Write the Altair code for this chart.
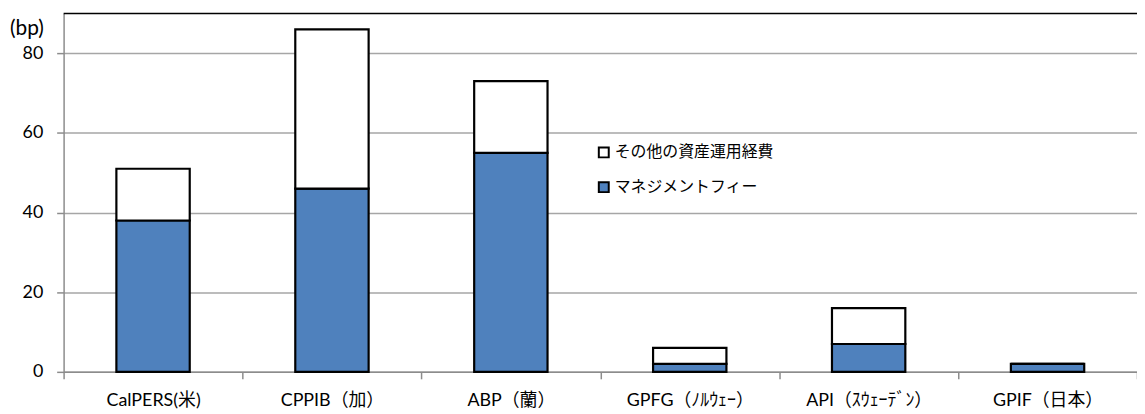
import altair as alt
import pandas as pd

categories = ["CalPERS(米)", "CPPIB（加）", "ABP（蘭）", "GPFG（ﾉﾙｳｪｰ）", "API（ｽｳｪｰﾃﾞﾝ）", "GPIF（日本）"]
mgmt_fee = [38, 46, 55, 2, 7, 2]
other_cost = [13, 40, 18, 4, 9, 0]
series_names = ["その他の資産運用経費", "マネジメントフィー"]
series_colors = ["#ffffff", "#4f81bd"]
y_ticks = [0, 20, 40, 60, 80]

rows = []
for c, m, o in zip(categories, mgmt_fee, other_cost):
    rows.append({"cat": c, "series": series_names[1], "value": m, "ord": 0})
    rows.append({"cat": c, "series": series_names[0], "value": o, "ord": 1})
df = pd.DataFrame(rows)

FONT = "Lato, 'Noto Sans CJK JP', sans-serif"

bars = alt.Chart(df).mark_bar(stroke="black", strokeWidth=2.2, width={"band": 0.41}).encode(
    x=alt.X("cat:N", sort=categories, title=None,
            scale=alt.Scale(paddingInner=0, paddingOuter=0),
            axis=alt.Axis(labelAngle=0, labelFontSize=18, labelColor="black", labelFont=FONT,
                          tickBand="extent", tickSize=7, tickColor="#8c8c8c", tickWidth=1.5,
                          domainColor="#8c8c8c", domainWidth=1.5, labelPadding=13, grid=False,
                          labelLimit=300)),
    y=alt.Y("value:Q", stack="zero", title=None,
            scale=alt.Scale(domain=[0, 90], nice=False),
            axis=alt.Axis(values=y_ticks, labelFontSize=18, labelColor="black", labelFont=FONT,
                          tickSize=7, tickColor="#8c8c8c", tickWidth=1.5, labelPadding=14,
                          domainColor="#8c8c8c", domainWidth=1.5, grid=True, gridColor="#a6a6a6",
                          gridWidth=1.5)),
    color=alt.Color("series:N", scale=alt.Scale(domain=series_names, range=series_colors),
                    legend=alt.Legend(title=None, orient="none", legendX=536, legendY=132,
                                      symbolType="square", symbolSize=100, symbolStrokeColor="black",
                                      symbolStrokeWidth=2, labelFontSize=16, labelFont=FONT,
                                      labelColor="black", rowPadding=17, labelOffset=3,
                                      symbolOpacity=1, labelLimit=400)),
    order=alt.Order("ord:Q"),
)

top_line = alt.Chart(pd.DataFrame({"v": [90]})).mark_rule(color="black", strokeWidth=1.5).encode(
    y=alt.Y("v:Q", scale=alt.Scale(domain=[0, 90], nice=False)),
)

unit = alt.Chart(pd.DataFrame({"t": ["(bp)"]})).mark_text(
    fontSize=21, font=FONT, align="left", baseline="middle", color="black"
).encode(text="t:N", x=alt.value(-54), y=alt.value(16))

chart = alt.layer(top_line, bars, unit).properties(
    width=1081, height=361,
    autosize=alt.AutoSizeParams(type="none"),
    padding={"left": 56, "top": 4, "right": 0, "bottom": 40},
).configure_view(stroke=None).configure_axis(labelFont=FONT)

chart.save("out.html", embed_options={"renderer": "svg", "actions": False})
